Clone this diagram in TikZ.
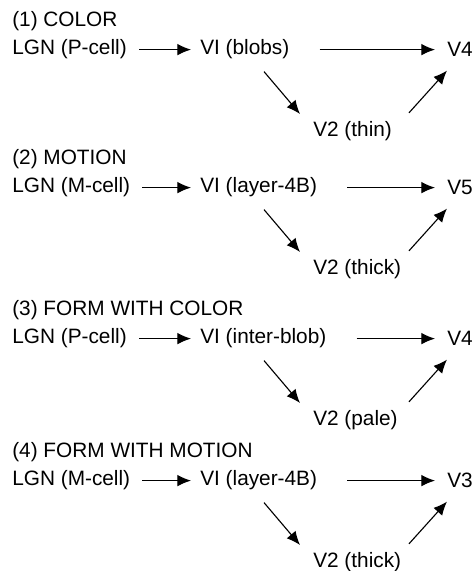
\documentclass[tikz,border=0pt]{standalone}
\usepackage{fontspec}
\setmainfont{Liberation Sans}
\usetikzlibrary{arrows.meta}

\tikzset{
  area/.style={inner sep=0pt, anchor=west, font=\fontsize{14.8}{17}\selectfont},
  flow/.style={-{Latex[length=3.4mm,width=2.9mm]}, line width=0.8pt}
}

\begin{document}
\begin{tikzpicture}
  \useasboundingbox (0,0) rectangle (11.875,-14.275);

  \begin{scope}[yshift=-1.24cm]
    \node[area] (title1) at (0.3,0.72) {(1) COLOR};
    \node[area] (lgn1) at (0.3,0) {LGN (P-cell)};
    \node[area] (vone1) at (5,0) {VI (blobs)};
    \node[area] (vout1) at (11.175,0) {V4};
    \node[area] (vtwo1) at (7.825,-2.03) {V2 (thin)};
    \draw[flow,shorten <=0.3cm,shorten >=0.225cm] (lgn1) -- (vone1);
    \draw[flow,shorten <=0.75cm,shorten >=0.3cm] (vone1) -- (vout1);
    \draw[flow] ([shift={(1.6,-0.55)}]vone1.west) -- ([shift={(-0.325,0.42)}]vtwo1.west);
    \draw[flow] ([shift={(2.4,0.45)}]vtwo1.west) -- ([yshift=-0.525cm]vout1.west);
  \end{scope}

  \begin{scope}[yshift=-4.69cm]
    \node[area] (title2) at (0.3,0.72) {(2) MOTION};
    \node[area] (lgn2) at (0.3,0) {LGN (M-cell)};
    \node[area] (vone2) at (5,0) {VI (layer-4B)};
    \node[area] (vout2) at (11.175,0) {V5};
    \node[area] (vtwo2) at (7.825,-2.03) {V2 (thick)};
    \draw[flow,shorten <=0.3cm,shorten >=0.225cm] (lgn2) -- (vone2);
    \draw[flow,shorten <=0.75cm,shorten >=0.3cm] (vone2) -- (vout2);
    \draw[flow] ([shift={(1.6,-0.55)}]vone2.west) -- ([shift={(-0.325,0.42)}]vtwo2.west);
    \draw[flow] ([shift={(2.4,0.45)}]vtwo2.west) -- ([yshift=-0.525cm]vout2.west);
  \end{scope}

  \begin{scope}[yshift=-8.465cm]
    \node[area] (title3) at (0.3,0.72) {(3) FORM WITH COLOR};
    \node[area] (lgn3) at (0.3,0) {LGN (P-cell)};
    \node[area] (vone3) at (5,0) {VI (inter-blob)};
    \node[area] (vout3) at (11.175,0) {V4};
    \node[area] (vtwo3) at (7.825,-2.03) {V2 (pale)};
    \draw[flow,shorten <=0.3cm,shorten >=0.225cm] (lgn3) -- (vone3);
    \draw[flow,shorten <=0.75cm,shorten >=0.3cm] (vone3) -- (vout3);
    \draw[flow] ([shift={(1.6,-0.55)}]vone3.west) -- ([shift={(-0.325,0.42)}]vtwo3.west);
    \draw[flow] ([shift={(2.4,0.45)}]vtwo3.west) -- ([yshift=-0.525cm]vout3.west);
  \end{scope}

  \begin{scope}[yshift=-12.015cm]
    \node[area] (title4) at (0.3,0.72) {(4) FORM WITH MOTION};
    \node[area] (lgn4) at (0.3,0) {LGN (M-cell)};
    \node[area] (vone4) at (5,0) {VI (layer-4B)};
    \node[area] (vout4) at (11.175,0) {V3};
    \node[area] (vtwo4) at (7.825,-2.03) {V2 (thick)};
    \draw[flow,shorten <=0.3cm,shorten >=0.225cm] (lgn4) -- (vone4);
    \draw[flow,shorten <=0.75cm,shorten >=0.3cm] (vone4) -- (vout4);
    \draw[flow] ([shift={(1.6,-0.55)}]vone4.west) -- ([shift={(-0.325,0.42)}]vtwo4.west);
    \draw[flow] ([shift={(2.4,0.45)}]vtwo4.west) -- ([yshift=-0.525cm]vout4.west);
  \end{scope}
\end{tikzpicture}
\end{document}
